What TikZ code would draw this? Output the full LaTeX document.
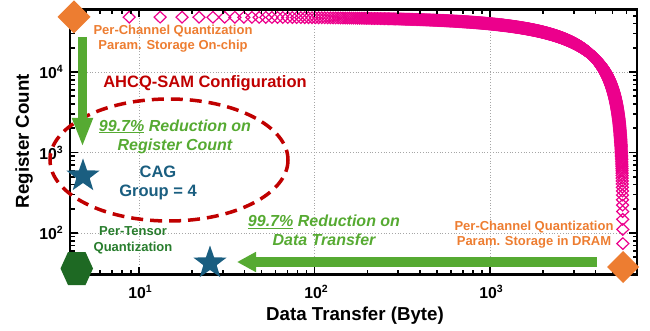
\documentclass[tikz,border=0pt]{standalone}
\usepackage{fontspec}
\setmainfont{Liberation Sans}
\usetikzlibrary{shapes.geometric,arrows.meta}
\definecolor{pinkc}{RGB}{236,0,140}
\definecolor{orangec}{RGB}{237,125,49}
\definecolor{redc}{RGB}{192,0,0}
\definecolor{greenc}{RGB}{86,170,50}
\definecolor{bluec}{RGB}{26,94,128}
\definecolor{dgreenc}{RGB}{30,105,35}
\definecolor{tgreenc}{RGB}{40,125,45}
\newcommand\tlab[1]{10\raisebox{6pt}{\fontsize{10.5}{10.5}\selectfont #1}}
\begin{document}
\begin{tikzpicture}[x=1pt,y=-1pt,
  otxt/.style={text=orangec, align=center, font=\bfseries\fontsize{13}{15}\selectfont, inner sep=0pt},
  gtxt/.style={text=greenc, align=center, font=\bfseries\itshape\fontsize{16}{19}\selectfont, inner sep=0pt},
  rtxt/.style={text=redc, font=\bfseries\fontsize{16.5}{19}\selectfont, inner sep=0pt},
  btxt/.style={text=bluec, align=center, font=\bfseries\fontsize{16.5}{19}\selectfont, inner sep=0pt},
  tgtxt/.style={text=tgreenc, align=center, font=\bfseries\fontsize{13}{16}\selectfont, inner sep=0pt},
  axl/.style={font=\bfseries\fontsize{18.7}{22}\selectfont, inner sep=0pt},
  tkl/.style={font=\bfseries\fontsize{15.8}{15.8}\selectfont, inner sep=0pt},
  gridl/.style={gray!70, line width=0.8pt, dotted},
  tickl/.style={black, line width=1.6pt},
  starm/.style={star, star points=5, star point ratio=2.5, minimum size=35pt, inner sep=0pt, fill=bluec},
  garrow/.style={greenc}
]
\useasboundingbox (0,0) rectangle (650,331);
% grid
\foreach \gx in {139,314.5,490} \draw[gridl] (\gx,9.5) -- (\gx,274.5);
\foreach \gy in {72,152.5,233} \draw[gridl] (70,\gy) -- (637,\gy);
% pink curve
\foreach \k in {1,...,1300} {
  \pgfmathsetmacro\xx{76.4+175.5*log10(\k)}
  \pgfmathsetmacro\yy{267.8-80.5*log10(1301-\k)}
  \draw[pinkc, line width=1.2pt] (\xx,\yy) +(0,-5.8) -- +(6,0) -- +(0,5.8) -- +(-6,0) -- cycle;
}
% ticks
\foreach \d in {0,...,3} \foreach \m in {2,...,9} {
  \pgfmathsetmacro\tx{139+(\d+log10(\m)-1)*175.5}
  \ifdim\tx pt>72pt \ifdim\tx pt<635pt
    \draw[tickl] (\tx,274.5) -- ++(0,-4.5);
    \draw[tickl] (\tx,9.5) -- ++(0,4.5);
  \fi\fi
}
\foreach \d in {1,...,4} \foreach \m in {2,...,9} {
  \pgfmathsetmacro\ty{233-(\d+log10(\m)-2)*80.5}
  \ifdim\ty pt>11pt \ifdim\ty pt<273pt
    \draw[tickl] (70,\ty) -- ++(4.5,0);
    \draw[tickl] (637,\ty) -- ++(-4.5,0);
  \fi\fi
}
\foreach \gx in {139,314.5,490} {
  \draw[tickl] (\gx,274.5) -- ++(0,-8);
  \draw[tickl] (\gx,9.5) -- ++(0,8);
}
\foreach \gy in {72,152.5,233} {
  \draw[tickl] (70,\gy) -- ++(8,0);
  \draw[tickl] (637,\gy) -- ++(-8,0);
}
\draw[black, line width=2.6pt] (70,9.5) rectangle (637,274.5);
% tick labels
\node[tkl, anchor=east] (y4) at (63,72) {\tlab{4}};
\node[tkl, anchor=east] (y3) at (63,152.5) {\tlab{3}};
\node[tkl, anchor=east] (y2) at (63,233) {\tlab{2}};
\node[tkl] (x1) at (140,292) {\tlab{1}};
\node[tkl] (x2) at (316,292) {\tlab{2}};
\node[tkl] (x3) at (491,292) {\tlab{3}};
% axis labels
\node[axl, rotate=90] (ylab) at (24,141) {Register Count};
\node[axl, anchor=base] (xlab) at (355,320) {Data Transfer (Byte)};
% ellipse
\draw[redc, line width=3.5pt, dash pattern=on 12pt off 7pt] (169,160) ellipse [x radius=119, y radius=61];
% arrows
\coordinate (va1) at (82.5,37);
\coordinate (va2) at (82.5,147);
\draw[garrow, line width=9.5pt, -{Triangle[width=19pt,length=29pt]}] (va1) -- (va2);
\coordinate (ha1) at (597,262);
\coordinate (ha2) at (237,262);
\draw[garrow, line width=10pt, -{Triangle[width=19pt,length=19pt]}] (ha1) -- (ha2);
% texts
\node[otxt] (pcTop) at (173,38.5) {Per-Channel Quantization\\Param. Storage On-chip};
\node[rtxt] (ahcq) at (205,83) {AHCQ-SAM Configuration};
\node[gtxt] (redReg) at (175,136.5) {\underline{99.7\%} Reduction on\\Register Count};
\node[btxt] (cag) at (158,182.5) {CAG\\Group = 4};
\node[tgtxt] (ptq) at (133,240) {Per-Tensor\\Quantization};
\node[gtxt] (redDT) at (324,230.5) {\underline{99.7\%} Reduction on\\Data Transfer};
\node[otxt] (pcBot) at (534,235) {Per-Channel Quantization\\Param. Storage in DRAM};
% markers
\fill[orangec] (74,0.5) -- (90.5,17) -- (74,33.5) -- (57.5,17) -- cycle;
\fill[orangec] (623,251) -- (639,267) -- (623,283) -- (607,267) -- cycle;
\fill[dgreenc] (60.5,268.5) -- (68,252) -- (85.5,252) -- (93,268.5) -- (85.5,285) -- (68,285) -- cycle;
\node[starm] (star1) at (83,176) {};
\node[starm] (star2) at (210,263) {};
\end{tikzpicture}
\end{document}
